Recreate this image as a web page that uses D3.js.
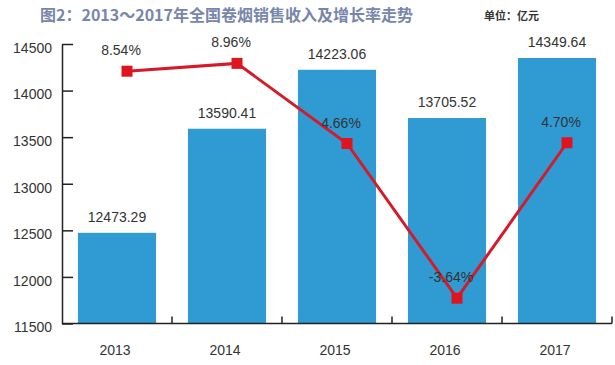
<!DOCTYPE html>
<html>
<head>
<meta charset="utf-8">
<script src="https://cdn.jsdelivr.net/npm/d3@7"></script>
<style>
  body { margin: 0; background: #fff; }
  svg { display: block; font-family: "Liberation Sans", Arial, sans-serif; }
</style>
</head>
<body>
<svg width="615" height="365"></svg>
<script>
const years = ["2013", "2014", "2015", "2016", "2017"];
const revenue = [12473.29, 13590.41, 14223.06, 13705.52, 14349.64];
const growth = [8.54, 8.96, 4.66, -3.64, 4.70];
const yTicks = [11500, 12000, 12500, 13000, 13500, 14000, 14500];

const svg = d3.select("svg"),
    margin = {top: 44, right: 3, bottom: 41.5, left: 62},
    width = +svg.attr("width") - margin.left - margin.right,
    height = +svg.attr("height") - margin.top - margin.bottom;

svg.append("text")
    .attr("x", 40)
    .attr("y", 21)
    .attr("fill", "#7886aa")
    .attr("font-family", "Noto Sans CJK SC")
    .attr("font-weight", "bold")
    .attr("font-size", 16)
    .text("图2：2013～2017年全国卷烟销售收入及增长率走势");

svg.append("text")
    .attr("x", 484)
    .attr("y", 20)
    .attr("fill", "#333")
    .attr("font-family", "Noto Sans CJK SC")
    .attr("font-weight", "bold")
    .attr("font-size", 11)
    .text("单位：亿元");

const g = svg.append("g")
    .attr("transform", `translate(${margin.left},${margin.top})`);

const x = d3.scaleBand()
    .domain(years)
    .range([0, width])
    .paddingInner(0.29)
    .paddingOuter(0.145);

const y = d3.scaleLinear()
    .domain([11500, 14500])
    .range([height, 0]);

const yPct = d3.scaleLinear()
    .domain([-5, 10])
    .range([height, 0]);

// bars
g.selectAll("rect.bar")
    .data(years)
    .join("rect")
    .attr("class", "bar")
    .attr("x", d => x(d))
    .attr("y", (d, i) => y(revenue[i]))
    .attr("width", x.bandwidth())
    .attr("height", (d, i) => height - y(revenue[i]))
    .attr("fill", "#2f9bd2");

g.selectAll("text.val")
    .data(years)
    .join("text")
    .attr("class", "val")
    .attr("x", d => x(d) + x.bandwidth() / 2)
    .attr("y", (d, i) => y(revenue[i]) - 11)
    .attr("text-anchor", "middle")
    .attr("font-size", 14)
    .attr("fill", "#333")
    .text((d, i) => revenue[i].toFixed(2));

// left axis
const yAxis = g.append("g")
    .call(d3.axisLeft(y).tickValues(yTicks).tickFormat(d3.format("d"))
        .tickSizeInner(-11).tickSizeOuter(0).tickPadding(10));
yAxis.select(".domain").attr("stroke", "#222").attr("stroke-width", 1.5);
yAxis.selectAll(".tick line").attr("stroke", "#222").attr("stroke-width", 1.5);
yAxis.selectAll(".tick text")
    .attr("font-size", 14)
    .attr("fill", "#333")
    .attr("font-family", "Liberation Sans, Arial, sans-serif")
    .attr("dy", "0.6em");

// bottom axis
const step = x.step();
const bottom = g.append("g").attr("transform", `translate(0,${height})`);
bottom.append("line")
    .attr("x1", 0).attr("x2", width)
    .attr("stroke", "#222").attr("stroke-width", 1.5);
bottom.selectAll("line.tk")
    .data(years)
    .join("line")
    .attr("class", "tk")
    .attr("x1", (d, i) => (i + 1) * step)
    .attr("x2", (d, i) => (i + 1) * step)
    .attr("y1", 0).attr("y2", -7)
    .attr("stroke", "#222").attr("stroke-width", 1.5);
bottom.selectAll("text")
    .data(years)
    .join("text")
    .attr("x", d => x(d) + x.bandwidth() / 2 - 2)
    .attr("y", 31)
    .attr("text-anchor", "middle")
    .attr("font-size", 14)
    .attr("fill", "#333")
    .text(d => d);

// growth line
const px = d => x(d) + x.bandwidth() / 2 + 10;
const line = d3.line()
    .x(d => px(d))
    .y((d, i) => yPct(growth[i]));

g.append("path")
    .datum(years)
    .attr("d", line)
    .attr("fill", "none")
    .attr("stroke", "#d41b2a")
    .attr("stroke-width", 3);

g.selectAll("rect.mk")
    .data(years)
    .join("rect")
    .attr("class", "mk")
    .attr("x", d => px(d) - 5.5)
    .attr("y", (d, i) => yPct(growth[i]) - 5.5)
    .attr("width", 11)
    .attr("height", 11)
    .attr("fill", "#e0141f");

g.selectAll("text.pct")
    .data(years)
    .join("text")
    .attr("class", "pct")
    .attr("x", d => px(d) - 6)
    .attr("y", (d, i) => yPct(growth[i]) - 16)
    .attr("text-anchor", "middle")
    .attr("font-size", 14)
    .attr("fill", "#333")
    .text((d, i) => growth[i].toFixed(2) + "%");
</script>
</body>
</html>
